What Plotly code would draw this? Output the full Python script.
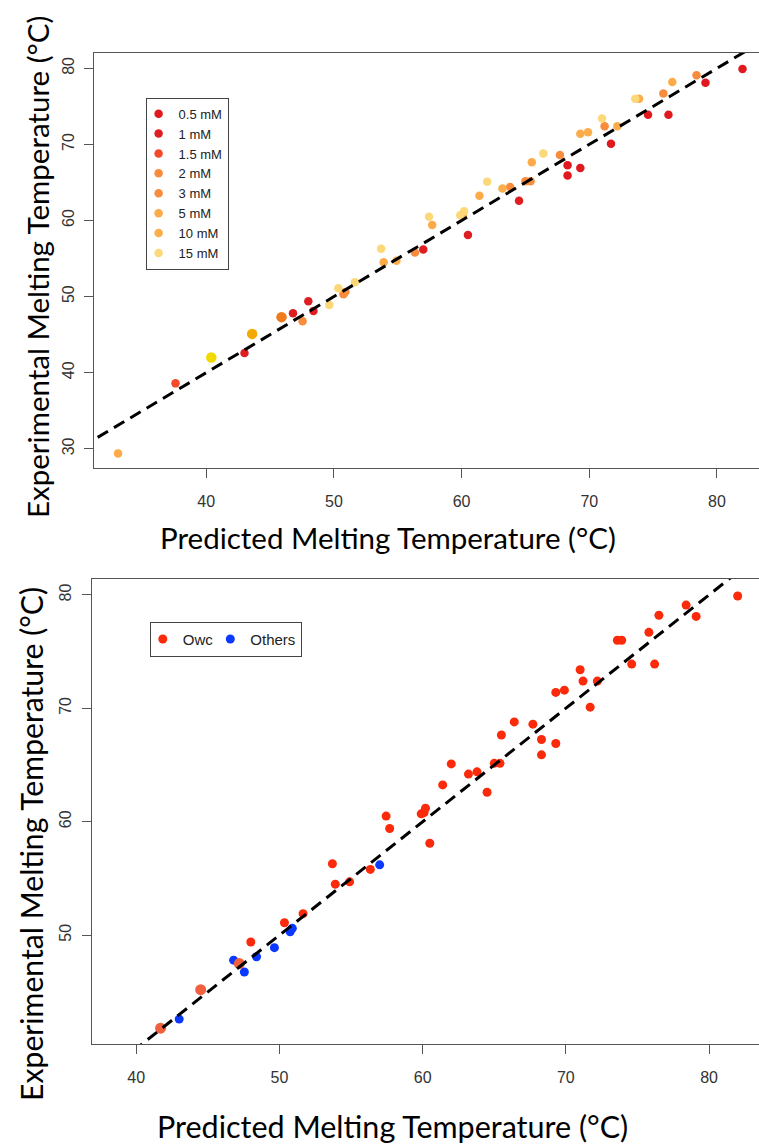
import plotly.graph_objects as go

# ---------------- data ----------------
# Top panel: predicted vs experimental melting temperature by concentration
conc_labels = ["0.5 mM", "1 mM", "1.5 mM", "2 mM", "3 mM", "5 mM", "10 mM", "15 mM"]
conc_colors = ["#E0191E", "#DE1F22", "#F4492B", "#F98B3C", "#F98D3E", "#FCAB48", "#FCAE4C", "#FCD878"]

pred_05 = [82.0, 79.1, 76.2, 74.6, 71.7, 69.3, 68.3, 68.3]
exp_05 = [79.9, 78.1, 73.9, 73.9, 70.1, 66.9, 67.25, 65.9]
pred_1 = [64.5, 60.5, 57.0, 48.0, 48.4, 46.8, 43.0]
exp_1 = [62.6, 58.1, 56.2, 49.4, 48.1, 47.8, 42.6]
pred_15 = [37.6]
exp_15 = [38.6]
pred_2 = [78.4, 71.2, 65.0, 63.8, 56.35, 50.75]
exp_2 = [79.1, 72.4, 65.15, 64.4, 55.8, 50.3]
pred_3 = [75.8, 67.7, 65.4, 60.1, 50.9, 47.55]
exp_3 = [76.7, 68.6, 65.15, 60.8, 50.6, 46.75]
pred_5 = [76.5, 72.2, 69.3, 65.5, 61.4, 57.7, 53.9, 33.1]
exp_5 = [78.2, 72.4, 71.4, 67.65, 63.25, 59.4, 54.5, 29.4]
pred_10 = [73.9, 69.9, 63.2, 54.9]
exp_10 = [76.0, 71.6, 64.2, 54.7]
pred_15mM = [73.6, 71.0, 66.4, 62.0, 57.45, 59.9, 60.2, 53.7, 50.35, 51.65, 49.65]
exp_15mM = [76.0, 73.4, 68.8, 65.1, 60.5, 60.7, 61.2, 56.3, 51.1, 51.9, 48.9]

pred_by_conc = [pred_05, pred_1, pred_15, pred_2, pred_3, pred_5, pred_10, pred_15mM]
exp_by_conc = [exp_05, exp_1, exp_15, exp_2, exp_3, exp_5, exp_10, exp_15mM]

# larger highlighted points (top panel)
big_pred_top = [40.4, 43.6, 45.9]
big_exp_top = [42.0, 45.1, 47.3]
big_colors_top = ["#F2DA00", "#F2A900", "#F07A1C"]

# Bottom panel: Owc vs Others
pred_owc = [82.0, 79.1, 76.2, 74.6, 71.7, 69.3, 68.3, 68.3, 64.5, 60.5, 48.0, 37.6,
            78.4, 71.2, 65.0, 63.8, 56.35, 75.8, 67.7, 65.4, 60.1,
            76.5, 72.2, 69.3, 65.5, 61.4, 57.7, 53.9, 33.1, 73.9, 69.9, 63.2, 54.9,
            73.6, 71.0, 66.4, 62.0, 57.45, 59.9, 60.2, 53.7, 50.35, 51.65]
exp_owc = [79.9, 78.1, 73.9, 73.9, 70.1, 66.9, 67.25, 65.9, 62.6, 58.1, 49.4, 38.6,
           79.1, 72.4, 65.15, 64.4, 55.8, 76.7, 68.6, 65.15, 60.8,
           78.2, 72.4, 71.4, 67.65, 63.25, 59.4, 54.5, 29.4, 76.0, 71.6, 64.2, 54.7,
           76.0, 73.4, 68.8, 65.1, 60.5, 60.7, 61.2, 56.3, 51.1, 51.9]
pred_others = [43.0, 46.8, 47.55, 48.4, 49.65, 50.75, 50.9, 57.0]
exp_others = [42.6, 47.8, 46.75, 48.1, 48.9, 50.3, 50.6, 56.2]
big_pred_bottom = [41.7, 44.5, 47.2]
big_exp_bottom = [41.8, 45.2, 47.5]

# identity reference line
ident = [20, 90]

x_ticks = [40, 50, 60, 70, 80]
y_ticks_top = [30, 40, 50, 60, 70, 80]
y_ticks_bottom = [40, 50, 60, 70, 80]

# ---------------- figure ----------------
W, H = 759, 1148
fig = go.Figure()

for lab, col, px, ey in zip(conc_labels, conc_colors, pred_by_conc, exp_by_conc):
    fig.add_trace(go.Scatter(x=px, y=ey, mode="markers", name=lab,
                             marker=dict(color=col, size=8.5, line=dict(width=0)),
                             xaxis="x", yaxis="y", legend="legend"))
fig.add_trace(go.Scatter(x=big_pred_top, y=big_exp_top, mode="markers", showlegend=False,
                         marker=dict(color=big_colors_top, size=10.5, line=dict(width=0)),
                         xaxis="x", yaxis="y"))
fig.add_trace(go.Scatter(x=ident, y=ident, mode="lines", showlegend=False,
                         line=dict(color="black", width=3, dash="12px,7px"),
                         xaxis="x", yaxis="y"))

fig.add_trace(go.Scatter(x=pred_owc, y=exp_owc, mode="markers", name="Owc",
                         marker=dict(color="#FA2A0A", size=9, line=dict(width=0)),
                         xaxis="x2", yaxis="y2", legend="legend2"))
fig.add_trace(go.Scatter(x=pred_others, y=exp_others, mode="markers", name="Others",
                         marker=dict(color="#0A38FF", size=9, line=dict(width=0)),
                         xaxis="x2", yaxis="y2", legend="legend2"))
fig.add_trace(go.Scatter(x=big_pred_bottom, y=big_exp_bottom, mode="markers", showlegend=False,
                         marker=dict(color="#F0603F", size=11, line=dict(width=0)),
                         xaxis="x2", yaxis="y2"))
fig.add_trace(go.Scatter(x=ident, y=ident, mode="lines", showlegend=False,
                         line=dict(color="black", width=3, dash="12px,7px"),
                         xaxis="x2", yaxis="y2"))

tick_font = dict(family="Liberation Sans, Arial, sans-serif", size=16, color="#333")
axis_common = dict(showgrid=False, zeroline=False, showline=True, linecolor="#555",
                   linewidth=1.3, ticks="outside", ticklen=9, tickcolor="#555",
                   tickwidth=1.3, tickfont=tick_font)

fig.update_layout(
    width=W, height=H, margin=dict(l=0, r=0, t=0, b=0),
    paper_bgcolor="white", plot_bgcolor="white",
    xaxis=dict(domain=[94.3 / W, 1.0], range=[31.24, 83.29], anchor="y",
               tickvals=x_ticks, mirror=True, ticklabelstandoff=9, **axis_common),
    yaxis=dict(domain=[(H - 468.3) / H, (H - 53) / H], range=[27.44, 82.01], anchor="x",
               tickvals=y_ticks_top, tickangle=-90, ticklabelstandoff=4, **axis_common),
    xaxis2=dict(domain=[91.7 / W, 1.0], range=[36.89, 83.49], anchor="y2",
                tickvals=x_ticks, mirror=True, ticklabelstandoff=9, **axis_common),
    yaxis2=dict(domain=[(H - 1044.3) / H, (H - 579) / H], range=[40.38, 81.40], anchor="x2",
                tickvals=y_ticks_bottom, tickangle=-90, ticklabelstandoff=4, **axis_common),
    legend=dict(x=145.6 / W, y=1 - 97.7 / H, xanchor="left", yanchor="top",
                bgcolor="white", bordercolor="#444", borderwidth=1,
                font=dict(family="Liberation Sans, Arial, sans-serif", size=13, color="#222"),
                tracegroupgap=0, itemwidth=30, indentation=-8),
    legend2=dict(orientation="h", x=149.8 / W, y=1 - 621.7 / H, xanchor="left", yanchor="top",
                 bgcolor="white", bordercolor="#444", borderwidth=1,
                 font=dict(family="Liberation Sans, Arial, sans-serif", size=15, color="#222"),
                 itemwidth=30, indentation=-8),
)

title_font = dict(family="Lato, Open Sans, sans-serif", size=29.5, color="black")
fig.add_annotation(text="Predicted Melting Temperature (°C)", xref="paper", yref="paper",
                   x=387.5 / W, y=1 - 537 / H, showarrow=False, font=title_font,
                   xanchor="center", yanchor="middle")
fig.add_annotation(text="Predicted Melting Temperature (°C)", xref="paper", yref="paper",
                   x=392 / W, y=1 - 1126 / H, showarrow=False,
                   font=dict(title_font, size=30.5), xanchor="center", yanchor="middle")
fig.add_annotation(text="Experimental Melting Temperature (°C)", xref="paper", yref="paper",
                   x=37 / W, y=1 - 267 / H, showarrow=False, font=dict(title_font, size=29.5),
                   textangle=-90, xanchor="center", yanchor="middle")
fig.add_annotation(text="Experimental Melting Temperature (°C)", xref="paper", yref="paper",
                   x=31 / W, y=1 - 844 / H, showarrow=False,
                   font=dict(title_font, size=30.2), textangle=-90,
                   xanchor="center", yanchor="middle")

fig.write_html("out.html")
